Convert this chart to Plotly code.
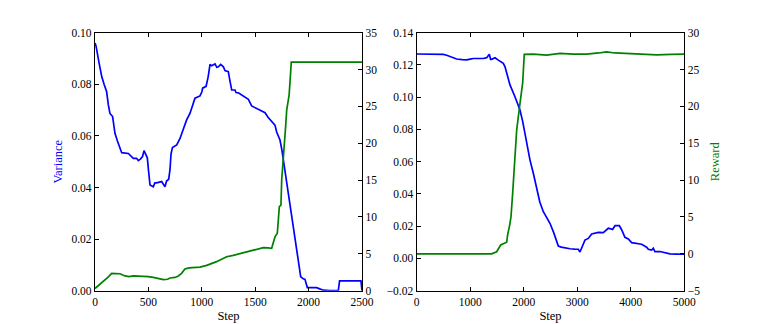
import plotly.graph_objects as go

# Left panel: variance and reward against step (0..2500)
left_var_steps = [0, 10, 35, 63, 85, 109, 125, 140, 165, 187, 210, 250, 312, 340, 359, 390, 405, 425, 445,
                  459, 475, 490, 500, 515, 546, 560, 577, 600, 624, 655, 670, 690, 702, 712, 725, 765, 796,
                  830, 858, 890, 915, 936, 983, 1000, 1008, 1040, 1060, 1077, 1092, 1108, 1124, 1140, 1155,
                  1177, 1202, 1217, 1248, 1265, 1280, 1311, 1320, 1342, 1389, 1420, 1436, 1467, 1514, 1550,
                  1576, 1592, 1620, 1638, 1685, 1701, 1732, 1750, 1764, 1779, 1810, 1841, 1873, 1904, 1926,
                  1950, 1966, 1988, 2075, 2110, 2138, 2200, 2278, 2290, 2400, 2481, 2490, 2500]
left_variance = [0.096, 0.0948, 0.089, 0.083, 0.080, 0.0771, 0.072, 0.0687, 0.0675, 0.061, 0.058, 0.0535,
                 0.0532, 0.052, 0.0513, 0.0513, 0.0504, 0.051, 0.052, 0.0543, 0.0525, 0.0515, 0.047, 0.041,
                 0.0403, 0.0418, 0.0418, 0.042, 0.0423, 0.0403, 0.0425, 0.0432, 0.0468, 0.053, 0.0555,
                 0.0565, 0.059, 0.063, 0.0662, 0.0688, 0.072, 0.0746, 0.0755, 0.077, 0.0785, 0.0792, 0.083,
                 0.0877, 0.0872, 0.0875, 0.0879, 0.0866, 0.0868, 0.0877, 0.0868, 0.0853, 0.0849, 0.081,
                 0.0778, 0.0778, 0.0768, 0.0767, 0.0755, 0.0745, 0.0742, 0.0716, 0.0707, 0.0698, 0.0694,
                 0.069, 0.0672, 0.0664, 0.0642, 0.0615, 0.0584, 0.0545, 0.0507, 0.0455, 0.0378, 0.0287,
                 0.0197, 0.0119, 0.0054, 0.0046, 0.0044, 0.0012, 0.0012, 0.0006, 0.0002, 0.0, 0.0, 0.0038,
                 0.0039, 0.0038, 0.0038, 0.0]

left_rew_steps = [0, 40, 78, 120, 156, 200, 234, 281, 320, 359, 400, 452, 500, 546, 600, 640, 680, 702,
                  749, 780, 811, 842, 880, 920, 983, 1046, 1100, 1139, 1190, 1233, 1295, 1340, 1389, 1430,
                  1483, 1530, 1576, 1620, 1654, 1685, 1707, 1726, 1741, 1748, 1764, 1785, 1795, 1810, 1818,
                  1838, 2000, 2075, 2200, 2350, 2500]
left_reward = [0.3, 0.8, 1.22, 1.8, 2.36, 2.3, 2.3, 2.0, 1.9, 2.0, 2.0, 2.0, 1.9, 1.8, 1.6, 1.5, 1.55, 1.72,
               1.8, 2.0, 2.36, 2.94, 3.1, 3.17, 3.2, 3.44, 3.7, 3.94, 4.3, 4.6, 4.8, 5.0, 5.16, 5.3, 5.5,
               5.7, 5.84, 5.8, 5.75, 7.3, 7.8, 11.4, 11.6, 15.0, 17.7, 22.3, 24.5, 26.3, 26.6, 31.0, 31.0,
               31.07, 31.0, 31.0, 31.0]

# Right panel: variance and reward against step (0..5000)
right_var_steps = [0, 100, 193, 350, 498, 560, 622, 747, 850, 934, 1000, 1058, 1245, 1308, 1357, 1380,
                   1400, 1463, 1525, 1618, 1649, 1700, 1743, 1836, 1930, 1980, 2023, 2070, 2117, 2179, 2242,
                   2300, 2366, 2430, 2490, 2560, 2646, 2700, 2771, 2864, 2950, 3019, 3050, 3100, 3144, 3206,
                   3269, 3393, 3487, 3580, 3661, 3705, 3786, 3829, 3860, 3891, 3954, 4016, 4203, 4296, 4328,
                   4390, 4421, 4452, 4546, 4650, 4732, 4850, 5000]
right_variance = [0.1268, 0.1268, 0.127, 0.1268, 0.1266, 0.126, 0.1252, 0.1237, 0.1233, 0.1231, 0.1236,
                  0.124, 0.124, 0.1245, 0.1266, 0.1235, 0.1235, 0.1245, 0.123, 0.121, 0.119, 0.112, 0.1076,
                  0.1003, 0.0921, 0.085, 0.0776, 0.068, 0.061, 0.0528, 0.0425, 0.035, 0.029, 0.025, 0.0218,
                  0.016, 0.0077, 0.007, 0.0065, 0.006, 0.0058, 0.0057, 0.004, 0.008, 0.0114, 0.0124, 0.0152,
                  0.0162, 0.016, 0.0187, 0.018, 0.0203, 0.0203, 0.0178, 0.015, 0.0131, 0.0121, 0.0098,
                  0.0088, 0.007, 0.0057, 0.0052, 0.0063, 0.0042, 0.0043, 0.0035, 0.0028, 0.0027, 0.0026]

right_rew_steps = [0, 500, 1000, 1401, 1494, 1569, 1681, 1700, 1740, 1762, 1793, 1836, 1868, 1930, 1961,
                   1980, 2010, 2179, 2428, 2677, 2926, 3175, 3400, 3549, 3700, 3860, 4172, 4484, 4750, 5000]
right_reward = [0.0, 0.0, 0.0, 0.0, 0.29, 1.2, 1.57, 2.6, 4.0, 5.04, 8.2, 13.0, 16.8, 20.4, 22.5, 23.2,
                27.07, 27.1, 26.97, 27.2, 27.1, 27.1, 27.25, 27.4, 27.25, 27.2, 27.2, 27.0, 27.05, 27.1]

BLUE = "#0000ff"
GREEN = "#008000"
FONT = "Liberation Serif"

fig = go.Figure()
fig.add_trace(go.Scatter(x=left_var_steps, y=left_variance, mode="lines",
                         line=dict(color=BLUE, width=1.7), xaxis="x", yaxis="y"))
fig.add_trace(go.Scatter(x=left_rew_steps, y=left_reward, mode="lines",
                         line=dict(color=GREEN, width=1.7), xaxis="x", yaxis="y2"))
fig.add_trace(go.Scatter(x=right_var_steps, y=right_variance, mode="lines",
                         line=dict(color=BLUE, width=1.7), xaxis="x2", yaxis="y3"))
fig.add_trace(go.Scatter(x=right_rew_steps, y=right_reward, mode="lines",
                         line=dict(color=GREEN, width=1.7), xaxis="x2", yaxis="y4"))

common = dict(showline=True, linecolor="black", linewidth=1.3, ticks="inside", ticklen=4,
              tickcolor="black", showgrid=False, zeroline=False, automargin=False,
              tickfont=dict(family=FONT, size=11.5, color="black"))

# the page body adds an 8px offset, so plot areas are placed 8px up and left
W, H, OFF = 761, 324, 8
ydom = [1 - (290.7 - OFF) / H, 1 - (32.7 - OFF) / H]
fig.update_layout(
    width=W, height=H,
    margin=dict(l=0, r=0, t=0, b=0),
    paper_bgcolor="white", plot_bgcolor="white",
    showlegend=False,
    font=dict(family=FONT, color="black"),
    xaxis=dict(domain=[(95 - OFF) / W, (362 - OFF) / W], range=[0, 2500], dtick=500, mirror="ticks",
               title=dict(text="Step", font=dict(family=FONT, size=12.5), standoff=4), **common),
    yaxis=dict(domain=ydom, anchor="x", range=[0, 0.10], dtick=0.02, tickformat=".2f",
               title=dict(text="Variance", font=dict(family=FONT, size=12.5, color=BLUE), standoff=6),
               **common),
    yaxis2=dict(overlaying="y", anchor="x", side="right", range=[0, 35], dtick=5, **common),
    xaxis2=dict(domain=[(416.7 - OFF) / W, (684.3 - OFF) / W], anchor="y3", range=[0, 5000], dtick=1000,
                mirror="ticks",
                title=dict(text="Step", font=dict(family=FONT, size=12.5), standoff=4), **common),
    yaxis3=dict(domain=ydom, anchor="x2", range=[-0.02, 0.14], dtick=0.02, tickformat=".2f", **common),
    yaxis4=dict(overlaying="y3", anchor="x2", side="right", range=[-5, 30], dtick=5,
                title=dict(text="Reward", font=dict(family=FONT, size=12.5, color=GREEN), standoff=11),
                **common),
)

fig.write_html("out.html")
